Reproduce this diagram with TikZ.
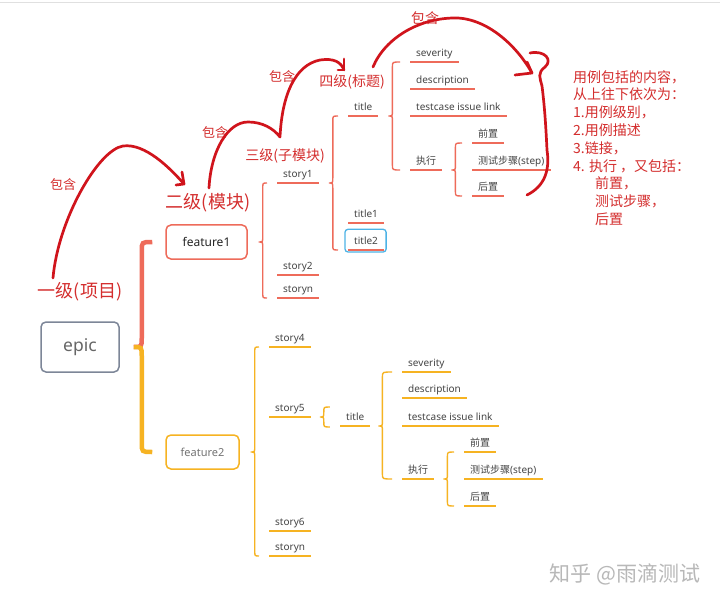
\documentclass[tikz,border=0pt]{standalone}
\usepackage{fontspec}
\setmainfont{Noto Sans}
\newfontfamily\cjk{Noto Sans CJK SC}
\usetikzlibrary{calc}
\definecolor{cor}{HTML}{EE6B5A}
\definecolor{org}{HTML}{F6B322}
\definecolor{hred}{HTML}{D0141C}
\definecolor{ared}{HTML}{D42E2E}
\definecolor{txt}{HTML}{444444}
\definecolor{epicb}{HTML}{7D8698}
\definecolor{blu}{HTML}{4DB3E6}
\tikzset{
  leaf/.style={anchor=south west, inner xsep=6pt, inner ysep=5pt, text height=7.3pt, text depth=0pt,
    font=\fontsize{10}{12}\selectfont, text=txt},
  rl/.style={leaf, append after command={(\tikzlastnode.south west) edge[cor, line width=1.8pt] (\tikzlastnode.south east)}},
  ol/.style={leaf, append after command={(\tikzlastnode.south west) edge[org, line width=1.8pt] (\tikzlastnode.south east)}},
  rbr/.style={cor, line width=1.4pt},
  obr/.style={org, line width=1.4pt},
  hand/.style={hred, line width=2.7pt, line cap=round, line join=round},
  lvl/.style={text=ared, inner sep=0pt},
  featbox/.style={rounded corners=5pt, line width=1.5pt, minimum height=34pt, inner sep=0pt},
}
\newcommand\hbrace[4]{%
  \draw[#1] let \p1=(#2), \p2=(#3), \p3=(#4) in
   (\x2,\y2) .. controls (\x1+4pt,\y2) .. (\x1+4pt,\y2-5pt) -- (\x1+4pt,\y1+5pt)
   .. controls (\x1+4pt,\y1) .. (\x1,\y1) .. controls (\x1+4pt,\y1) .. (\x1+4pt,\y1-5pt)
   -- (\x1+4pt,\y3+5pt) .. controls (\x1+4pt,\y3) .. (\x2,\y3);}
\begin{document}
\begin{tikzpicture}[x=1pt,y=-1pt]
\useasboundingbox[fill=white] (0,0) rectangle (720,604);
\draw[black!12, line width=1pt] (0,3) -- (720,3);

% main boxes
\node[draw=epicb, rounded corners=5pt, line width=1.5pt, minimum width=78pt, minimum height=50pt,
  text=black!60, font=\fontsize{17.5}{20}\selectfont] (epic) at (80,347) {epic};
\node[featbox, draw=cor, minimum width=81pt, font=\bfseries\fontsize{12}{14}\selectfont, text=black!85] (f1) at (206.5,242) {feature1};
\node[featbox, draw=org, minimum width=73pt, font=\fontsize{11}{13}\selectfont, text=black!55] (f2) at (202.5,452) {feature2};

% epic brace
\coordinate (etip) at ([xshift=14pt]epic.east);
\coordinate (etop) at ([xshift=-13pt]f1.west);
\coordinate (ebot) at ([xshift=-13pt]f2.west);
\draw[cor, line width=4.5pt] let \p1=(etip), \p2=(etop) in
  (\x1,\y1) .. controls (\x1+8pt,\y1) .. (\x1+8pt,\y1+9pt) -- (\x1+8pt,\y2-9pt) .. controls (\x1+8pt,\y2) .. (\x2,\y2);
\draw[org, line width=4.5pt] let \p1=(etip), \p2=(ebot) in
  (\x1,\y1) .. controls (\x1+8pt,\y1) .. (\x1+8pt,\y1-9pt) -- (\x1+8pt,\y2+9pt) .. controls (\x1+8pt,\y2) .. (\x2,\y2);

% ---- feature1 subtree ----
\node[rl] (s1) at (277,183) {story1};
\node[rl] (s2) at (277,275) {story2};
\node[rl] (sn) at (277,298) {storyn};
\node[rl] (t) at (348,116) {title};
\node[rl] (t1) at (348,223) {title1};
\node[rl] (t2) at (348,250) {title2};
\draw[blu, line width=1.3pt, rounded corners=3pt] ([xshift=-3pt,yshift=-2pt]t2.south west) rectangle ([xshift=2pt,yshift=3pt]t2.north east);
\node[rl] (sev) at (410,62) {severity};
\node[rl] (desc) at (410,89) {description};
\node[rl] (link) at (410,116) {testcase issue link};
\node[rl] (exe) at (410,170) {\cjk 执行};
\node[rl] (pre) at (472,143) {\cjk 前置};
\node[rl] (stp) at (472,170) {{\cjk 测试步骤}(step)};
\node[rl] (post) at (472,196) {\cjk 后置};

\hbrace{rbr}{[xshift=11pt]f1.east}{[xshift=-10pt]s1.south west}{[xshift=-10pt]sn.south west}
\hbrace{rbr}{[xshift=10pt]s1.south east}{[xshift=-10pt]t.south west}{[xshift=-10pt]t2.south west}
\hbrace{rbr}{[xshift=10pt]t.south east}{[xshift=-10pt]sev.south west}{[xshift=-10pt]exe.south west}
\hbrace{rbr}{[xshift=9pt]exe.south east}{[xshift=-10pt]pre.south west}{[xshift=-10pt]post.south west}

% ---- feature2 subtree ----
\node[ol] (s4) at (269,347) {story4};
\node[ol] (s5) at (269,417) {story5};
\node[ol] (s6) at (269,531) {story6};
\node[ol] (sn2) at (269,556) {storyn};
\node[ol] (to) at (340,426) {title};
\node[ol] (sev2) at (402,372) {severity};
\node[ol] (desc2) at (402,398) {description};
\node[ol] (link2) at (402,426) {testcase issue link};
\node[ol] (exe2) at (402,479) {\cjk 执行};
\node[ol] (pre2) at (464,452) {\cjk 前置};
\node[ol] (stp2) at (464,479) {{\cjk 测试步骤}(step)};
\node[ol] (post2) at (464,506) {\cjk 后置};

\hbrace{obr}{[xshift=11pt]f2.east}{[xshift=-10pt]s4.south west}{[xshift=-10pt]sn2.south west}
\coordinate (s5tip) at ([xshift=9pt]s5.south east);
\coordinate (s5top) at ([xshift=19pt,yshift=10pt]s5.south east);
\coordinate (s5bot) at ([xshift=19pt,yshift=-10pt]s5.south east);
\hbrace{obr}{s5tip}{s5top}{s5bot}
\hbrace{obr}{[xshift=8pt]to.south east}{[xshift=-10pt]sev2.south west}{[xshift=-10pt]exe2.south west}
\hbrace{obr}{[xshift=9pt]exe2.south east}{[xshift=-10pt]pre2.south west}{[xshift=-10pt]post2.south west}

% ---- level labels ----
\node[lvl, font=\cjk\fontsize{18}{20}\selectfont] (l1) at (80,292) {一级(项目)};
\node[lvl, font=\cjk\fontsize{18}{20}\selectfont] (l2) at (208,203) {二级(模块)};
\node[lvl, font=\cjk\fontsize{14}{16}\selectfont] (l3) at (285,156) {三级(子模块)};
\node[lvl, font=\cjk\fontsize{14}{16}\selectfont] (l4) at (352,82) {四级(标题)};
\node[lvl, font=\cjk\fontsize{13}{15}\selectfont] (c1) at (63,185) {包含};
\node[lvl, font=\cjk\fontsize{13}{15}\selectfont] (c2) at (215,133) {包含};
\node[lvl, font=\cjk\fontsize{13}{15}\selectfont] (c3) at (282,77) {包含};
\node[lvl, font=\cjk\fontsize{14}{16}\selectfont] (c4) at (425,18) {包含};

% ---- hand drawn arrows ----
\coordinate (a1s) at (53,278);
\coordinate (a1e) at (184,184);
\draw[hand] (a1s) .. controls (58,220) and (98,150) .. (123,146) .. controls (145,143) and (170,168) .. (a1e);
\draw[hand] (182,172) -- (a1e) -- (176,185);
\coordinate (a2s) at (209,188);
\coordinate (a2m) at (280,137);
\coordinate (a2e) at (344,70);
\draw[hand] (a2s) .. controls (211,150) and (228,122) .. (248,122) .. controls (262,122) and (273,128) .. (a2m)
  .. controls (282,95) and (295,65) .. (320,60) .. controls (334,58) and (341,62) .. (a2e);
\draw[hand] (344,59) -- (a2e) -- (338,70);
\coordinate (a3s) at (373,67);
\coordinate (a3e) at (532,73);
\draw[hand] (a3s) .. controls (385,38) and (420,17) .. (458,18) .. controls (490,20) and (518,48) .. (a3e);
\draw[hand] (527,62) -- (a3e) -- (515,75);
\coordinate (b1) at (530,53);
\coordinate (b2) at (527,195);
\draw[hand] (b1) .. controls (545,50) and (553,60) .. (545,67) .. controls (537,73) and (540,78) .. (542,86)
  .. controls (545,110) and (546,130) .. (547,150) .. controls (550,170) and (545,186) .. (b2);

% ---- annotation ----
\node[anchor=north west, align=left, text=ared, inner sep=0pt, font=\cjk\fontsize{14}{17.8}\selectfont] (note) at (573,70)
{用例包括的内容，\\从上往下依次为：\\1.用例级别，\\2.用例描述\\3.链接，\\4. 执行 ，又包括：\\\hspace*{22pt}前置，\\\hspace*{22pt}测试步骤，\\\hspace*{22pt}后置};

% watermark
\node[text=black!28, font=\cjk\fontsize{21}{24}\selectfont, inner sep=0pt] (wm) at (625,574) {知乎 @雨滴测试};
\end{tikzpicture}
\end{document}
